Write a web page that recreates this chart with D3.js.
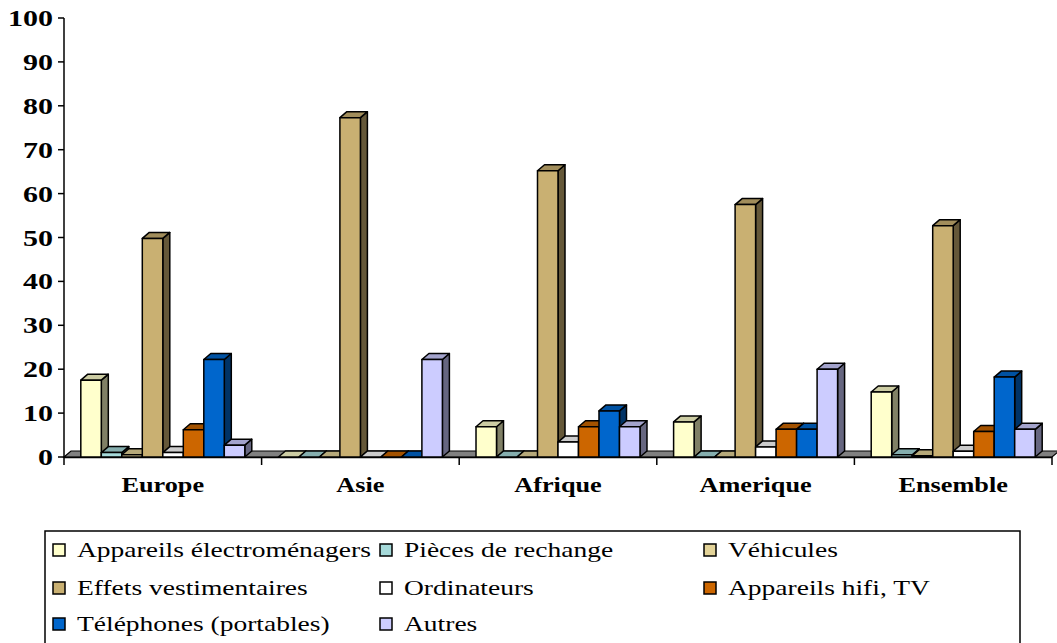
<!DOCTYPE html>
<html>
<head>
<meta charset="utf-8">
<script src="https://cdn.jsdelivr.net/npm/d3@7"></script>
<style>
  html, body { margin: 0; padding: 0; background: #fff; }
  svg { display: block; }
  text { font-family: "Liberation Serif", "Times New Roman", serif; fill: #000; }
</style>
</head>
<body>
<svg id="chart" width="1057" height="643"></svg>
<script>
// ---- data ----
const categories = ["Europe", "Asie", "Afrique", "Amerique", "Ensemble"];
const seriesNames = [
  "Appareils électroménagers", "Pièces de rechange", "Véhicules",
  "Effets vestimentaires", "Ordinateurs", "Appareils hifi, TV",
  "Téléphones (portables)", "Autres"
];
const appareils   = [17.5, 0, 6.9, 8, 14.8];
const pieces      = [1, 0, 0, 0, 0.5];
const vehicules   = [0.5, 0, 0, 0, 0.3];
const effets      = [49.8, 77.3, 65.2, 57.5, 52.7];
const ordinateurs = [1, 0, 3.4, 2.3, 1.3];
const hifi        = [6.2, 0, 6.9, 6.3, 5.8];
const telephones  = [22.2, 0, 10.5, 6.3, 18.2];
const autres      = [2.7, 22.2, 6.9, 20, 6.3];
const yTicks = [0, 10, 20, 30, 40, 50, 60, 70, 80, 90, 100];
const colors = ["#FFFFCC", "#A6DADA", "#E3D398", "#C9B072", "#FFFFFF", "#CC6600", "#0066CC", "#CCCCFF"];

const seriesValues = [appareils, pieces, vehicules, effets, ordinateurs, hifi, telephones, autres];

// ---- layout ----
const svg = d3.select("#chart");
const X0 = 64, X1 = 1052, Y0 = 457, Y1 = 18;
const DX = 7, DY = -6;
const SX = 1.25; // horizontal text stretch

const x = d3.scaleBand().domain(categories).range([X0, X1]).padding(0);
const xs = d3.scaleBand().domain(d3.range(seriesNames.length)).range([0, x.bandwidth()])
  .paddingInner(0).paddingOuter(0.82);
const y = d3.scaleLinear().domain([0, 100]).range([Y0, Y1]);

function shade(c, k) {
  const col = d3.rgb(c);
  return d3.rgb(col.r * k, col.g * k, col.b * k).formatHex();
}

// floor
svg.append("path")
  .attr("d", `M${X0},${Y0} L${X0 + DX},${Y0 + DY} L${X1 + DX},${Y0 + DY} L${X1},${Y0} Z`)
  .attr("fill", "#808080").attr("stroke", "#000").attr("stroke-width", 1.2);

// y axis
svg.append("line").attr("x1", X0).attr("x2", X0).attr("y1", Y1).attr("y2", Y0 + 1)
  .attr("stroke", "#000").attr("stroke-width", 1.5);
const yt = svg.append("g");
yTicks.forEach(t => {
  yt.append("line").attr("x1", X0 - 6).attr("x2", X0).attr("y1", y(t)).attr("y2", y(t))
    .attr("stroke", "#000").attr("stroke-width", 1.5);
  yt.append("text")
    .attr("transform", `translate(53,${y(t) + 8}) scale(${SX},1)`)
    .attr("text-anchor", "end")
    .attr("font-size", 24).attr("font-weight", "bold")
    .text(t);
});

// x axis line and ticks
svg.append("line").attr("x1", X0).attr("x2", X1).attr("y1", Y0 + 0.5).attr("y2", Y0 + 0.5)
  .attr("stroke", "#000").attr("stroke-width", 1.5);
const bounds = categories.map(c => x(c)).concat([X1]);
bounds.forEach(b => {
  svg.append("line").attr("x1", b).attr("x2", b).attr("y1", Y0).attr("y2", Y0 + 8)
    .attr("stroke", "#000").attr("stroke-width", 1.5);
});

// bars
const bars = svg.append("g");
categories.forEach((cat, ci) => {
  seriesValues.forEach((vals, si) => {
    const v = vals[ci];
    const bx = x(cat) + xs(si);
    const bw = xs.bandwidth();
    const top = y(v);
    const g = bars.append("g").attr("stroke", "#000").attr("stroke-width", 1.5).attr("stroke-linejoin", "round");
    // side
    g.append("path")
      .attr("d", `M${bx + bw},${Y0} L${bx + bw + DX},${Y0 + DY} L${bx + bw + DX},${top + DY} L${bx + bw},${top} Z`)
      .attr("fill", shade(colors[si], 0.5));
    // top
    g.append("path")
      .attr("d", `M${bx},${top} L${bx + DX},${top + DY} L${bx + bw + DX},${top + DY} L${bx + bw},${top} Z`)
      .attr("fill", shade(colors[si], 0.8));
    // front
    if (Y0 - top > 0.5) {
      g.append("rect").attr("x", bx).attr("y", top).attr("width", bw).attr("height", Y0 - top)
        .attr("fill", colors[si]);
    }
  });
});

// category labels
categories.forEach(cat => {
  svg.append("text")
    .attr("transform", `translate(${x(cat) + x.bandwidth() / 2},${492}) scale(${SX},1)`)
    .attr("text-anchor", "middle")
    .attr("font-size", 21).attr("font-weight", "bold")
    .text(cat);
});

// legend
svg.append("rect").attr("x", 45).attr("y", 531).attr("width", 975).attr("height", 130)
  .attr("fill", "#fff").attr("stroke", "#000").attr("stroke-width", 1.5);
const colX = [53, 380, 704];
const rowY = [550, 588, 624];
seriesNames.forEach((name, i) => {
  const cx = colX[i % 3], cy = rowY[Math.floor(i / 3)];
  svg.append("rect").attr("x", cx).attr("y", cy - 6).attr("width", 12).attr("height", 12)
    .attr("fill", colors[i]).attr("stroke", "#000").attr("stroke-width", 1.5);
  svg.append("text")
    .attr("transform", `translate(${cx + 24},${cy + 7}) scale(${SX},1)`)
    .attr("font-size", 22)
    .text(name);
});
</script>
</body>
</html>
